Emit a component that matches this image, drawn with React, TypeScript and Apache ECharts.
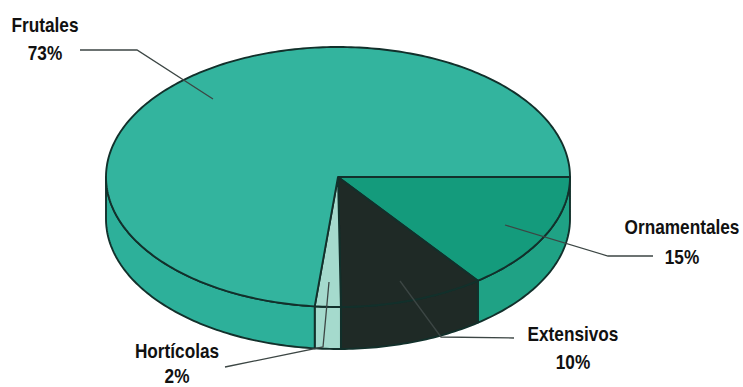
import React, { useEffect, useRef } from "react";
import * as echarts from "echarts";

const categories = ["Ornamentales", "Extensivos", "Hortícolas", "Frutales"];
const shares = [14.7, 10.1, 1.8, 73.4];
const topColors = ["#149b7c", "#1f2a26", "#a5dacd", "#33b49e"];
const wallColors = ["#1fa285", "#1f2a26", "#a5dacd", "#2db09a"];

const CX = 338, CY = 177, RX = 232, RY = 130, DEPTH = 42;
const OUTLINE = "#12302b";
const LINE = "#3c4644";
const FONT = "'Liberation Sans', sans-serif";

const leaders: Record<string, number[][]> = {
  Frutales: [[80, 50], [137, 50], [213, 99]],
  Ornamentales: [[505, 225], [608, 256], [653, 256]],
  Extensivos: [[400, 281], [441, 337], [514, 338]],
  "Hortícolas": [[329, 282], [323, 347], [225, 367]],
};
const labelPos: Record<string, number[]> = {
  Frutales: [45, 25, 53],
  Ornamentales: [682, 227, 257],
  Extensivos: [573, 334, 362],
  "Hortícolas": [177, 351, 376],
};

const pt = (deg: number, dy = 0) => {
  const a = (deg * Math.PI) / 180;
  return [CX + RX * Math.cos(a), CY + RY * Math.sin(a) + dy];
};
const arc = (a0: number, a1: number, dy = 0) => {
  const out: number[][] = [];
  const n = Math.max(2, Math.ceil(Math.abs(a1 - a0)));
  for (let i = 0; i <= n; i++) out.push(pt(a0 + ((a1 - a0) * i) / n, dy));
  return out;
};
const sliceRange = (i: number) => {
  const before = shares.slice(0, i).reduce((s, v) => s + v, 0);
  return [(before * 360) / 100, ((before + shares[i]) * 360) / 100];
};

const renderWall = (params: any) => {
  const i = params.dataIndex;
  const [a0, a1] = sliceRange(i);
  const s = Math.max(0, a0), e = Math.min(180, a1);
  if (e <= s) return { type: "group", children: [] };
  const points = [...arc(s, e), ...arc(e, s, DEPTH)];
  return {
    type: "polygon",
    shape: { points },
    style: { fill: wallColors[i], stroke: OUTLINE, lineWidth: 1.9, lineJoin: "round" },
  };
};
const renderTop = (params: any) => {
  const i = params.dataIndex;
  const [a0, a1] = sliceRange(i);
  return {
    type: "polygon",
    shape: { points: [[CX, CY], ...arc(a0, a1)] },
    style: { fill: topColors[i], stroke: OUTLINE, lineWidth: 1.9, lineJoin: "round" },
  };
};

export default function App() {
  const ref = useRef<HTMLDivElement>(null);
  useEffect(() => {
    const chart = echarts.init(ref.current!, null, { renderer: "svg" });
    const data = categories.map((name, i) => ({ name, value: shares[i] }));
    const graphics: any[] = [];
    categories.forEach((name, i) => {
      graphics.push({
        type: "polyline",
        z: 10,
        shape: { points: leaders[name] },
        style: { fill: "none", stroke: LINE, lineWidth: 1.3 },
      });
      const [x, y1, y2] = labelPos[name];
      [name, `${Math.round(shares[i])}%`].forEach((t, k) =>
        graphics.push({
          type: "text",
          z: 10,
          x,
          y: k === 0 ? y1 : y2,
          scaleX: 0.82,
          originX: 0,
          originY: 0,
          style: {
            text: t,
            fill: "#111",
            font: `bold 21px ${FONT}`,
            align: "center",
            verticalAlign: "middle",
          },
        })
      );
    });
    chart.setOption({
      animation: false,
      backgroundColor: "#ffffff",
      series: [
        { type: "custom", coordinateSystem: "none", silent: true, data, renderItem: renderWall, z: 1 },
        { type: "custom", coordinateSystem: "none", silent: true, data, renderItem: renderTop, z: 2 },
      ],
      graphic: graphics,
    });
    return () => chart.dispose();
  }, []);
  return <div ref={ref} style={{ position: "fixed", left: 0, top: 0, width: 743, height: 387 }} />;
}
